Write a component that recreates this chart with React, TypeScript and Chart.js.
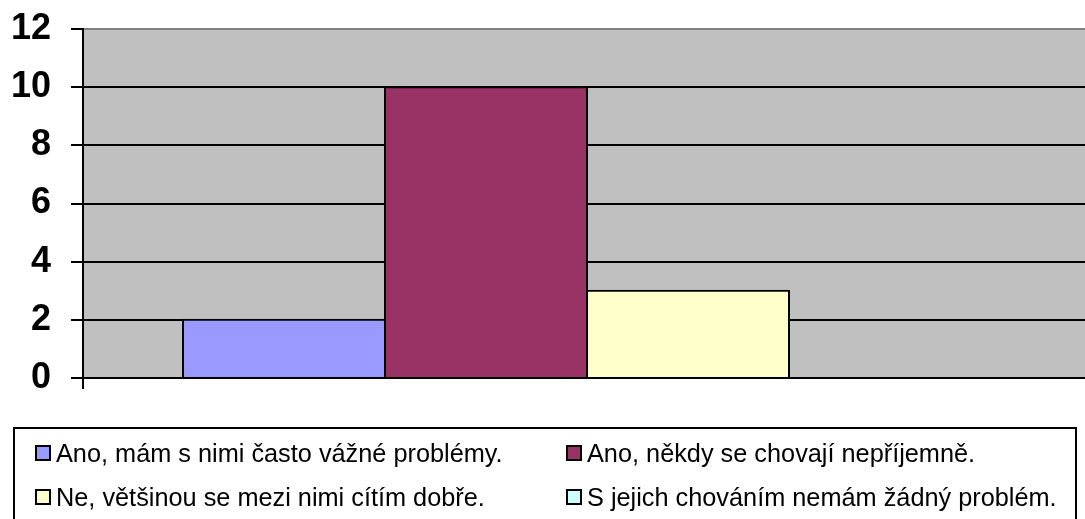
import React, { useEffect, useRef } from "react";
import { Chart, registerables } from "chart.js";

Chart.register(...registerables);

const categories = [""];
const seriesNames = [
  "Ano, mám s nimi často vážné problémy.",
  "Ano, někdy se chovají nepříjemně.",
  "Ne, většinou se mezi nimi cítím dobře.",
  "S jejich chováním nemám žádný problém.",
];
const seriesValues = [2, 10, 3, 0];
const seriesColors = ["#9999FF", "#993366", "#FFFFCC", "#CCFFFF"];
const yTicks = [0, 2, 4, 6, 8, 10, 12];

const plotBg = {
  id: "plotBg",
  beforeDraw(chart: any) {
    const { ctx, chartArea } = chart;
    ctx.save();
    ctx.fillStyle = "#C0C0C0";
    ctx.fillRect(chartArea.left, chartArea.top, chartArea.right - chartArea.left, chartArea.bottom - chartArea.top);
    ctx.restore();
  },
};

export default function App() {
  const ref = useRef<HTMLCanvasElement | null>(null);

  useEffect(() => {
    document.body.style.margin = "0";
    const chart = new Chart(ref.current as HTMLCanvasElement, {
      type: "bar",
      data: {
        labels: categories,
        datasets: seriesNames.map((name, i) => ({
          label: name,
          data: [seriesValues[i]],
          backgroundColor: seriesColors[i],
          borderColor: "#000000",
          borderWidth: 2,
          inflateAmount: 1,
          categoryPercentage: 0.8016,
          barPercentage: 1,
        })),
      },
      options: {
        animation: false,
        responsive: false,
        maintainAspectRatio: false,
        layout: { padding: { top: 29, bottom: 129, left: 0, right: 0 } },
        plugins: { legend: { display: false }, tooltip: { enabled: false } },
        scales: {
          x: {
            grid: {
              display: true,
              drawOnChartArea: false,
              tickLength: 11,
              color: "#000000",
              tickColor: "#000000",
              lineWidth: 2,
            },
            border: { display: true, color: "#000000", width: 2 },
            ticks: { display: false },
            afterFit: (s: any) => {
              s.height = 12;
              s.paddingLeft = 0;
              s.paddingRight = 0;
            },
          },
          y: {
            min: 0,
            max: 12,
            afterBuildTicks: (s: any) => {
              s.ticks = yTicks.map((v) => ({ value: v }));
            },
            grid: {
              color: (c: any) => (c.tick && c.tick.value === 12 ? "#808080" : "#000000"),
              tickColor: "#000000",
              lineWidth: 2,
              tickLength: 12,
            },
            border: { display: true, color: "#000000", width: 2 },
            ticks: {
              color: "#000000",
              padding: 20,
              font: { family: "Liberation Sans, Arial, sans-serif", size: 36, weight: "bold" },
            },
            afterFit: (s: any) => {
              s.width = 83;
              s.paddingTop = 0;
              s.paddingBottom = 0;
            },
          },
        },
      },
      plugins: [plotBg],
    } as any);
    return () => chart.destroy();
  }, []);

  const legendItem = (i: number, left: number, top: number) => (
    <div
      key={i}
      style={{
        position: "absolute",
        left,
        top,
        display: "flex",
        alignItems: "center",
        height: 28,
        whiteSpace: "nowrap",
      }}
    >
      <span
        style={{
          display: "inline-block",
          width: 12,
          height: 12,
          border: "2px solid #000",
          background: seriesColors[i],
          marginRight: 5,
        }}
      />
      <span style={{ fontFamily: "Liberation Sans, Arial, sans-serif", fontSize: 25.3, color: "#000" }}>
        {seriesNames[i]}
      </span>
    </div>
  );

  return (
    <div style={{ position: "relative", width: 1085, height: 519, overflow: "hidden", background: "#fff" }}>
      <canvas ref={ref} width={1091} height={519} style={{ display: "block" }} />
      <div
        style={{
          position: "absolute",
          left: 13,
          top: 427,
          width: 1064,
          height: 120,
          border: "2px solid #000",
          boxSizing: "border-box",
        }}
      />
      {legendItem(0, 35, 439)}
      {legendItem(1, 566, 439)}
      {legendItem(2, 35, 483)}
      {legendItem(3, 566, 483)}
    </div>
  );
}
